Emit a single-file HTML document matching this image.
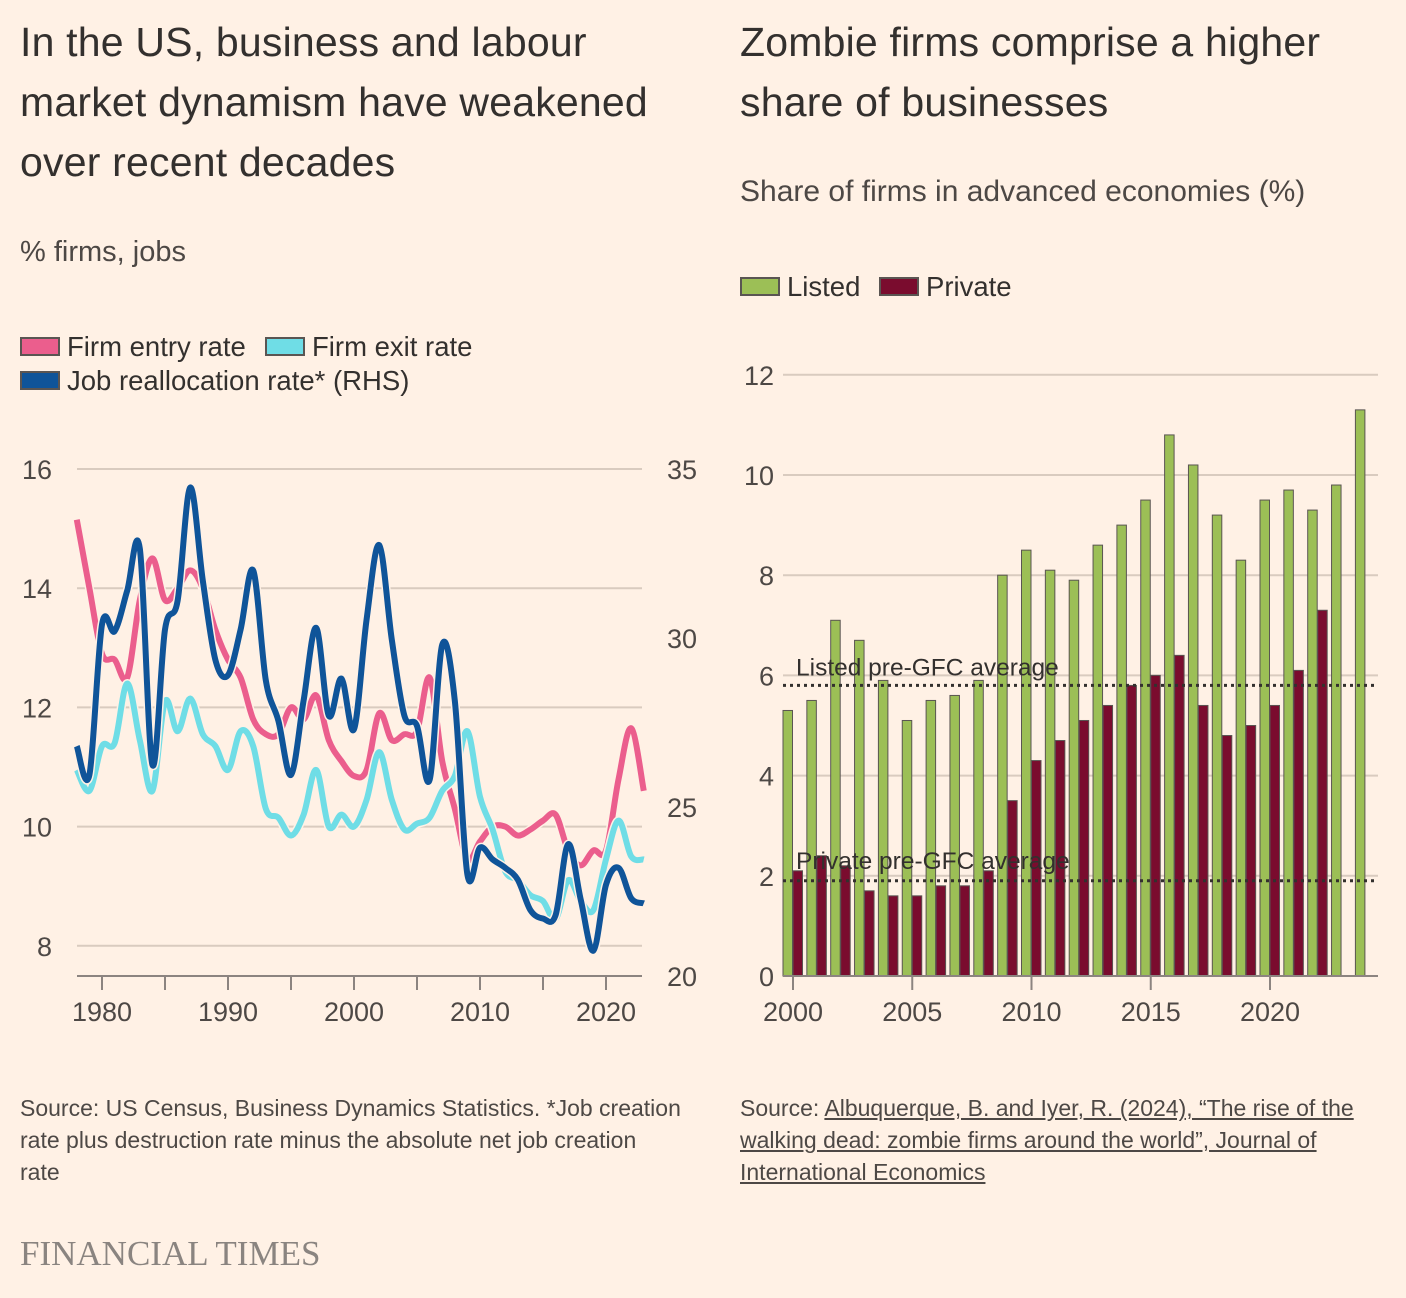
<!DOCTYPE html>
<html><head><meta charset="utf-8">
<style>
body{margin:0;background:#fff1e5;font-family:"Liberation Sans",sans-serif;color:#33302e;}
#wrap{position:relative;width:1406px;height:1298px;overflow:hidden;}
.t{position:absolute;white-space:nowrap;}
</style></head>
<body>
<div id="wrap">
<div class="t" style="left:20px;top:12px;font-size:41px;line-height:60px;letter-spacing:0.2px;">In the US, business and labour<br>market dynamism have weakened<br>over recent decades</div>
<div class="t" style="left:20px;top:236px;font-size:29px;color:#4d4845;">% firms, jobs</div>
<div class="t" style="left:740px;top:12px;font-size:41px;line-height:60px;letter-spacing:0.2px;">Zombie firms comprise a higher<br>share of businesses</div>
<div class="t" style="left:740px;top:175px;font-size:30px;color:#4d4845;">Share of firms in advanced economies (%)</div>
<div class="t" style="left:20px;top:1092px;font-size:23px;line-height:32px;color:#4d4845;">Source: US Census, Business Dynamics Statistics. *Job creation<br>rate plus destruction rate minus the absolute net job creation<br>rate</div>
<div class="t" style="left:740px;top:1092px;font-size:23px;line-height:32px;color:#4d4845;">Source: <u>Albuquerque, B. and Iyer, R. (2024), “The rise of the<br>walking dead: zombie firms around the world”, Journal of<br>International Economics</u></div>
<div class="t" style="left:20px;top:1234px;font-size:35px;font-family:'Liberation Serif',serif;color:#8a8480;">FINANCIAL TIMES</div>
<svg id="svg" width="1406" height="1298" style="position:absolute;left:0;top:0"></svg>
</div>
<script>
const years=[];for(let y=1978;y<=2023;y++)years.push(y);
const entryRate=[15.15,14.0,12.9,12.8,12.5,13.8,14.5,13.8,14.0,14.3,14.0,13.3,12.8,12.5,11.8,11.55,11.55,12.0,11.8,12.2,11.45,11.1,10.85,10.95,11.9,11.45,11.55,11.6,12.5,11.1,10.3,9.45,9.75,10.0,10.0,9.85,9.95,10.1,10.2,9.6,9.35,9.6,9.6,10.8,11.65,10.6];
const exitRate=[10.95,10.6,11.35,11.4,12.4,11.45,10.6,12.1,11.6,12.15,11.55,11.35,10.95,11.6,11.35,10.3,10.15,9.85,10.2,10.95,10.0,10.2,10.0,10.45,11.25,10.45,9.95,10.05,10.15,10.6,10.85,11.6,10.5,9.95,9.25,9.1,8.85,8.75,8.45,9.1,8.75,8.6,9.45,10.1,9.5,9.45];
const jobRealloc=[26.8,25.95,30.4,30.2,31.4,32.65,26.25,30.25,31.1,34.45,31.7,29.35,28.9,30.25,32.0,28.75,27.55,25.95,28.15,30.3,27.7,28.8,27.3,30.55,32.75,29.95,27.7,27.4,25.8,29.8,28.15,23.0,23.8,23.45,23.2,22.85,21.95,21.7,21.8,23.9,22.25,20.75,22.7,23.2,22.3,22.15];
const leftTicks=[8,10,12,14,16];
const rightTicks=[20,25,30,35];
const xTicksL=[1980,1990,2000,2010,2020];
const barYears=[];for(let y=2000;y<=2024;y++)barYears.push(y);
const listed=[5.3,5.5,7.1,6.7,5.9,5.1,5.5,5.6,5.9,8.0,8.5,8.1,7.9,8.6,9.0,9.5,10.8,10.2,9.2,8.3,9.5,9.7,9.3,9.8,11.3];
const priv=[2.1,2.4,2.2,1.7,1.6,1.6,1.8,1.8,2.1,3.5,4.3,4.7,5.1,5.4,5.8,6.0,6.4,5.4,4.8,5.0,5.4,6.1,7.3,null,null];
const barTicks=[0,2,4,6,8,10,12];
const barXTicks=[2000,2005,2010,2015,2020];
const listedAvg=5.8, privateAvg=1.9;

const NS='http://www.w3.org/2000/svg';
const svg=document.getElementById('svg');
function mk(tag,attrs,name,txt){const e=document.createElementNS(NS,tag);for(const k in attrs)e.setAttribute(k,attrs[k]);


if(txt!==undefined)e.textContent=txt;svg.appendChild(e);return e;}
const grid='#d9cbbf', axc='#8c8480', tc='#4d4845';
const xL=y=>102+(y-1980)*12.6;
const yL=v=>469+(16-v)*59.6;
const yR=v=>469+(35-v)*33.8;
leftTicks.forEach(v=>{mk('line',{x1:77,x2:642,y1:yL(v),y2:yL(v),stroke:grid,'stroke-width':2},'left-gridline');
mk('text',{x:52,y:yL(v)+10,'font-size':27,fill:tc,'text-anchor':'end','font-family':'Liberation Sans'},'left-y-tick',String(v));});
rightTicks.forEach(v=>{mk('text',{x:667,y:yR(v)+10,'font-size':27,fill:tc,'font-family':'Liberation Sans'},'right-y-tick',String(v));});
mk('line',{x1:77,x2:642,y1:976,y2:976,stroke:axc,'stroke-width':2},'left-x-axis');
for(let y=1980;y<=2020;y+=5)mk('line',{x1:xL(y),x2:xL(y),y1:976,y2:990,stroke:axc,'stroke-width':2},'left-x-tick');
xTicksL.forEach(y=>mk('text',{x:xL(y),y:1021,'font-size':27,fill:tc,'text-anchor':'middle','font-family':'Liberation Sans'},'left-x-label',String(y)));
function smooth(pts){let d='M'+pts[0][0]+','+pts[0][1];
for(let i=0;i<pts.length-1;i++){const p0=pts[Math.max(0,i-1)],p1=pts[i],p2=pts[i+1],p3=pts[Math.min(pts.length-1,i+2)];
const c1=[p1[0]+(p2[0]-p0[0])/6,p1[1]+(p2[1]-p0[1])/6],c2=[p2[0]-(p3[0]-p1[0])/6,p2[1]-(p3[1]-p1[1])/6];
d+=` C${c1[0]},${c1[1]} ${c2[0]},${c2[1]} ${p2[0]},${p2[1]}`;}return d;}
function line(vals,ys,col,name,w){mk('path',{d:smooth(vals.map((v,i)=>[xL(years[i]),ys(v)])),fill:'none',stroke:'#fff1e5','stroke-width':w+3,'stroke-linejoin':'round'},name+'-halo');
mk('path',{d:smooth(vals.map((v,i)=>[xL(years[i]),ys(v)])),fill:'none',stroke:col,'stroke-width':w,'stroke-linejoin':'round'},name);}
line(entryRate,yL,'#eb5e8d','firm-entry-line',6);
line(exitRate,yL,'#6fdde6','firm-exit-line',6);
line(jobRealloc,yR,'#0f5499','job-reallocation-line',6);
function leg(x,y,col,label,name){mk('rect',{x:x,y:y,width:38,height:17,fill:col,stroke:'#5a5552','stroke-width':2},name+'-swatch');
mk('text',{x:x+46,y:y+18,'font-size':27.5,fill:'#33302e','font-family':'Liberation Sans'},name+'-label',label);}
leg(21,338,'#eb5e8d','Firm entry rate','legend-entry');
leg(266,338,'#6fdde6','Firm exit rate','legend-exit');
leg(21,372,'#0f5499','Job reallocation rate* (RHS)','legend-job');
leg(741,278,'#9cbf56','Listed','legend-listed');
leg(880,278,'#7a0c2e','Private','legend-private');
const xB=y=>793+(y-2000)*23.85;
const yB=v=>976-v*50.1;
barTicks.forEach(v=>{mk('line',{x1:783,x2:1378,y1:yB(v),y2:yB(v),stroke:grid,'stroke-width':2},'right-gridline');
mk('text',{x:774,y:yB(v)+10,'font-size':27,fill:tc,'text-anchor':'end','font-family':'Liberation Sans'},'bar-y-tick',String(v));});
barYears.forEach((y,i)=>{const c=xB(y);
mk('rect',{x:c-10,y:yB(listed[i]),width:9.5,height:976-yB(listed[i]),fill:'#9cbf56',stroke:'#5a5552','stroke-width':1},'bar-listed-'+y);
if(priv[i]!=null)mk('rect',{x:c,y:yB(priv[i]),width:9.5,height:976-yB(priv[i]),fill:'#7a0c2e',stroke:'#5a5552','stroke-width':1},'bar-private-'+y);});
mk('line',{x1:783,x2:1378,y1:976,y2:976,stroke:axc,'stroke-width':2},'right-x-axis');
barXTicks.forEach(y=>{mk('line',{x1:xB(y),x2:xB(y),y1:976,y2:990,stroke:axc,'stroke-width':2},'bar-x-tick');
mk('text',{x:xB(y),y:1021,'font-size':27,fill:tc,'text-anchor':'middle','font-family':'Liberation Sans'},'bar-x-label',String(y));});
mk('line',{x1:783,x2:1378,y1:yB(listedAvg),y2:yB(listedAvg),stroke:'#33302e','stroke-width':3,'stroke-dasharray':'3,4'},'listed-avg-line');
mk('line',{x1:783,x2:1378,y1:yB(privateAvg),y2:yB(privateAvg),stroke:'#33302e','stroke-width':3,'stroke-dasharray':'3,4'},'private-avg-line');
mk('text',{x:796,y:yB(listedAvg)-10,'font-size':24.5,fill:'#33302e','font-family':'Liberation Sans'},'listed-avg-label','Listed pre-GFC average');
mk('text',{x:796,y:yB(privateAvg)-12,'font-size':24.5,fill:'#33302e','font-family':'Liberation Sans'},'private-avg-label','Private pre-GFC average');
</script>
</body></html>
